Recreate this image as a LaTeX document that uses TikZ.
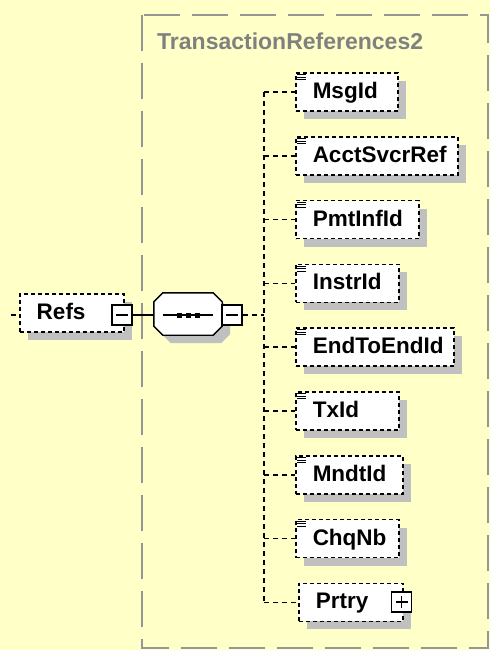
\documentclass[tikz,border=0pt]{standalone}
\usepackage{fontspec}
\setmainfont{Liberation Sans}
\usetikzlibrary{shadows, calc}
\definecolor{paneyellow}{RGB}{255,255,200}
\definecolor{framegray}{RGB}{150,150,150}
\definecolor{titlegray}{RGB}{128,128,128}
\definecolor{shadegray}{RGB}{192,192,192}

% octagon of the sequence compositor
\newcommand\octpath{($(seq.north west)+(9,0)$) -- ($(seq.north east)+(-9,0)$)
  -- ($(seq.north east)+(0,9)$) -- ($(seq.south east)+(0,-9)$)
  -- ($(seq.south east)+(-9,0)$) -- ($(seq.south west)+(9,0)$)
  -- ($(seq.south west)+(0,-9)$) -- ($(seq.north west)+(0,9)$) -- cycle}

\begin{document}
\begin{tikzpicture}[
    x=1pt, y=-1pt,
    element/.style={
      draw, fill=white, line width=1.5pt, dash pattern=on 4pt off 3pt,
      inner xsep=0pt, inner ysep=0pt, minimum height=38pt,
      anchor=west, align=left,
      font=\fontsize{22.5}{24}\selectfont\bfseries,
      text height=16pt, text depth=3pt,
      drop shadow={shadow xshift=8pt, shadow yshift=-8pt, fill=shadegray, opacity=1}
    },
    seqbox/.style={minimum width=68pt, minimum height=42pt, inner sep=0pt},
    toggle/.style={
      draw, fill=white, line width=1.4pt, minimum size=20pt, inner sep=0pt
    },
    minus/.style={toggle,
      path picture={\draw[line width=1.2pt]
        ([xshift=4pt]path picture bounding box.west) --
        ([xshift=-4pt]path picture bounding box.east);}
    },
    plus/.style={toggle,
      path picture={\draw[line width=1.2pt]
        ([xshift=4pt]path picture bounding box.west) --
        ([xshift=-4pt]path picture bounding box.east)
        ([yshift=-4pt]path picture bounding box.north) --
        ([yshift=4pt]path picture bounding box.south);}
    },
    link/.style={line width=1.5pt, dash pattern=on 5pt off 4pt},
    icon/.style={line width=1pt}
  ]
    % Pane and bounding box
    \useasboundingbox (0,0) rectangle (490,650);
    \fill[paneyellow] (0,0) rectangle (490,650);

    % Complex type frame
    \draw[framegray, line width=2pt, dash pattern=on 36pt off 12pt]
      (142,15) rectangle (488,648);
    \node[anchor=base west, text=titlegray, inner sep=0pt,
      font=\fontsize{23}{24}\selectfont\bfseries] (typename) at (157,50)
      {TransactionReferences2};

    % Root element and sequence
    \coordinate (refsin) at (11,315);
    \node[element, text width=104pt] (refs) at (19,313)
      {\noindent\hspace*{17pt}Refs};
    \node[minus] (refsminus) at (122,315) {};
    \node[seqbox] (seq) at (188,314) {};
    \fill[shadegray, transform canvas={shift={(8,8)}}] \octpath;
    \draw[fill=white, line width=1.4pt] \octpath;
    \draw[line width=1.2pt] ($(seq.west)+(9,1)$) -- ($(seq.east)+(-9,1)$);
    \foreach \dx in {-9,0,9}
      \fill ($(seq.center)+(\dx,1)$) +(-2.5,-2.5) rectangle +(2.5,2.5);
    \node[minus] (seqminus) at (232,315) {};
    \coordinate (spine) at (264,315);

    \draw[link] (refsin) -- (refsin -| refs.west);
    \draw[line width=1.4pt] (refsminus.east) -- (refsminus.east -| seq.west);
    \draw[link] (seqminus.east) -- (spine);

    % Child elements
    \foreach \name/\w [count=\i] in {MsgId/102, AcctSvcrRef/162, PmtInfId/123,
        InstrId/103, EndToEndId/158, TxId/103, MndtId/107, ChqNb/103} {
      \pgfmathsetmacro\rowy{92+63.8*(\i-1)}
      \node[element, text width=\w pt] (e\i) at (295,\rowy)
        {\noindent\hspace*{17pt}\name};
      \foreach \d in {2.5,5,7.5}
        \draw[icon] ($(e\i.north west)+(2,\d)$) -- ++(9,0);
      \draw[link] (e\i.west -| spine) -- (e\i.west);
    }
    \node[element, text width=104pt] (e9) at (298,602.4)
      {\noindent\hspace*{17pt}Prtry};
    \node[plus] (prtryplus) at (401.5,602) {};
    \draw[link] (e9.west -| spine) -- (e9.west);

    % Sequence spine
    \draw[link] (e1.west -| spine) -- (e9.west -| spine);
  \end{tikzpicture}
\end{document}
